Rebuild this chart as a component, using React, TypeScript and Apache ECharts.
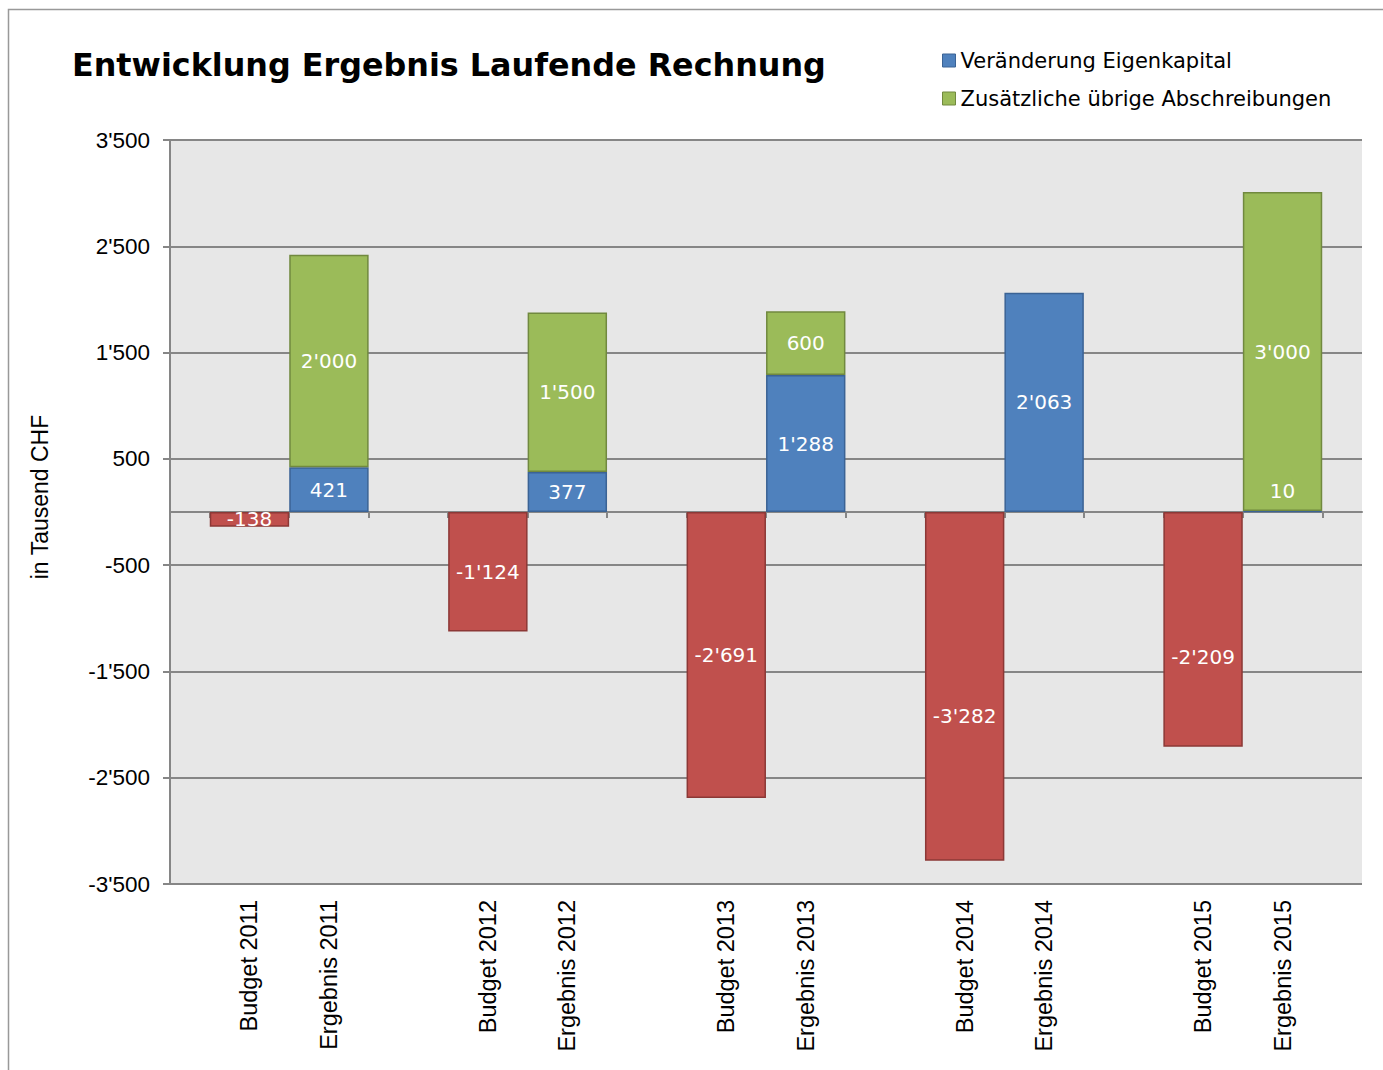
import React, { useEffect, useRef } from "react";
import * as echarts from "echarts";

const categories = [
  " ", "Budget 2011", "Ergebnis 2011", "  ", "Budget 2012", "Ergebnis 2012", "   ",
  "Budget 2013", "Ergebnis 2013", "    ", "Budget 2014", "Ergebnis 2014", "     ",
  "Budget 2015", "Ergebnis 2015", "      ",
];
const eigenkapital: (number | null)[] = [
  null, -138, 421, null, -1124, 377, null, -2691, 1288, null, -3282, 2063, null, -2209, 10, null,
];
const abschreibungen: (number | null)[] = [
  null, null, 2000, null, null, 1500, null, null, 600, null, null, null, null, null, 3000, null,
];
const tickSlots = Array.from({ length: 15 }, (_, i) => "t" + i);
const yMin = -3500;
const yMax = 3500;
const yStep = 1000;

// label placement tweaks (pixels), keyed by category
const labelShift: Record<string, [number, number]> = {
  "Budget 2014": [0, 30],
  "Budget 2015": [0, 28],
  "Ergebnis 2015": [0, -20],
};

const BLUE = "#4f81bd";
const BLUE_B = "#3b6395";
const GREEN = "#9bbb59";
const GREEN_B = "#71893f";
const RED = "#c0504d";
const RED_B = "#8c3836";

function fmt(v: number): string {
  const s = Math.abs(Math.round(v)).toString().replace(/\B(?=(\d{3})+(?!\d))/g, "'");
  return (v < 0 ? "-" : "") + s;
}

export default function App() {
  const ref = useRef<HTMLDivElement>(null);
  useEffect(() => {
    if (!ref.current) return;
    const chart = echarts.init(ref.current, undefined, { renderer: "svg" });
    const labelFont = { color: "#ffffff", fontFamily: "DejaVu Sans", fontSize: 20 };
    chart.setOption({
      animation: false,
      backgroundColor: "#ffffff",
      title: {
        text: "Entwicklung Ergebnis Laufende Rechnung",
        left: 72,
        top: 48,
        padding: 0,
        textStyle: { fontFamily: "DejaVu Sans", fontWeight: "bold", fontSize: 31.8, color: "#000" },
      },
      legend: {
        data: ["Veränderung Eigenkapital", "Zusätzliche übrige Abschreibungen"],
        orient: "vertical",
        left: 937,
        top: 45,
        icon: "rect",
        itemWidth: 13,
        itemHeight: 13,
        itemGap: 17,
        itemStyle: { borderWidth: 1 },
        textStyle: { fontFamily: "DejaVu Sans", fontSize: 21, color: "#000", lineHeight: 21 },
      },
      grid: {
        left: 170,
        right: 21,
        top: 140,
        bottom: 186,
        show: true,
        backgroundColor: "#e7e7e7",
        borderWidth: 0,
      },
      graphic: [
        {
          type: "rect",
          shape: { x: 8.5, y: 9.5, width: 1500, height: 1200 },
          style: { fill: "none", stroke: "#999999", lineWidth: 1.5 },
          z: 100,
        },
        {
          type: "text",
          x: 40,
          y: 497,
          rotation: Math.PI / 2,
          style: {
            text: "in Tausend CHF",
            fontFamily: "Liberation Sans",
            fontSize: 23,
            fill: "#000",
            textAlign: "center",
            textVerticalAlign: "middle",
          },
        },
      ],
      xAxis: [
        {
          type: "category",
          data: categories,
          boundaryGap: false,
          position: "bottom",
          axisLine: { show: false, onZero: false },
          axisTick: { show: false },
          axisLabel: {
            interval: 0,
            rotate: 90,
            margin: 16,
            fontFamily: "Liberation Sans",
            fontSize: 23.5,
            color: "#000",
          },
          splitLine: { show: false },
        },
        {
          type: "category",
          data: tickSlots,
          boundaryGap: true,
          position: "bottom",
          axisLine: { show: true, onZero: true, lineStyle: { color: "#868686", width: 2 } },
          axisTick: { show: true, alignWithLabel: true, interval: 0, length: 6, lineStyle: { color: "#868686", width: 2 } },
          axisLabel: { show: false },
          splitLine: { show: false },
        },
      ],
      yAxis: {
        type: "value",
        min: yMin,
        max: yMax,
        interval: yStep,
        axisLine: { show: true, lineStyle: { color: "#868686", width: 2 } },
        axisTick: { show: true, length: 7, lineStyle: { color: "#868686", width: 2 } },
        axisLabel: {
          formatter: (v: number) => fmt(v),
          fontFamily: "Liberation Sans",
          fontSize: 22.5,
          color: "#000",
          margin: 20,
        },
        splitLine: { show: true, lineStyle: { color: "#868686", width: 2 } },
      },
      series: [
        {
          name: "Veränderung Eigenkapital",
          type: "bar",
          stack: "total",
          xAxisIndex: 0,
          barWidth: 79.4,
          itemStyle: { color: BLUE, borderColor: BLUE_B, borderWidth: 1.5 },
          label: {
            show: true,
            position: "inside",
            formatter: (p: any) => fmt(p.value),
            ...labelFont,
          },
          data: eigenkapital.map((v, i) => {
            if (v === null) return null;
            const item: any = { value: v };
            if (v < 0) item.itemStyle = { color: RED, borderColor: RED_B };
            const sh = labelShift[categories[i]];
            if (sh) item.label = { offset: sh };
            return item;
          }),
        },
        {
          name: "Zusätzliche übrige Abschreibungen",
          type: "bar",
          stack: "total",
          xAxisIndex: 0,
          barWidth: 79.4,
          itemStyle: { color: GREEN, borderColor: GREEN_B, borderWidth: 1.5 },
          label: {
            show: true,
            position: "inside",
            formatter: (p: any) => fmt(p.value),
            ...labelFont,
          },
          data: abschreibungen,
        },
      ],
    });
    return () => chart.dispose();
  }, []);
  return (
    <div
      ref={ref}
      style={{ position: "absolute", left: 0, top: 0, width: 1383, height: 1070 }}
    />
  );
}
